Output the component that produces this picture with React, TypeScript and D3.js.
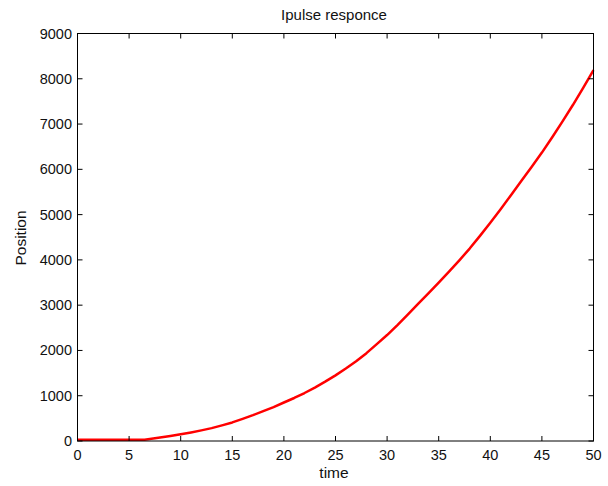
import React from "react";
import * as d3 from "d3";

const timeValues: number[] = [0, 1, 2, 3, 4, 5, 6, 6.5, 7, 8, 9, 10, 11, 12, 13, 14, 15, 16, 17, 18, 19, 20, 21, 22, 23, 24, 25, 26, 27, 28, 29, 30, 31, 32, 33, 34, 35, 36, 37, 38, 39, 40, 41, 42, 43, 44, 45, 46, 47, 48, 49, 50];
const positionValues: number[] = [30, 30, 30, 30, 30, 30, 30, 30, 45, 75, 110, 150, 190, 235, 285, 345, 410, 490, 570, 660, 750, 850, 950, 1060, 1180, 1310, 1450, 1600, 1760, 1940, 2140, 2340, 2560, 2790, 3030, 3260, 3500, 3740, 3990, 4250, 4530, 4820, 5120, 5430, 5740, 6050, 6370, 6710, 7060, 7420, 7800, 8190];
const xTicks: number[] = [0, 5, 10, 15, 20, 25, 30, 35, 40, 45, 50];
const yTicks: number[] = [0, 1000, 2000, 3000, 4000, 5000, 6000, 7000, 8000, 9000];
const titleText = "Ipulse responce";
const xLabel = "time";
const yLabel = "Position";

export default function App() {
  const W = 608, H = 486;
  const left = 77.5, right = 593.5, top = 33.5, bottom = 441;
  const x = d3.scaleLinear().domain([0, 50]).range([left, right]);
  const y = d3.scaleLinear().domain([0, 9000]).range([bottom, top]);
  const pts: [number, number][] = timeValues.map((t, i) => [t, positionValues[i]]);
  const line = d3.line<[number, number]>().x(d => x(d[0])).y(d => y(d[1]));
  const font = "'Liberation Sans', Arial, sans-serif";
  const tl = 5;
  return (
    <svg width={W} height={H} style={{ position: "absolute", left: 0, top: 0, background: "#fff" }} fontFamily={font}>
      <rect x={0} y={0} width={W} height={H} fill="#fff" />
      <path d={line(pts) || ""} fill="none" stroke="#ff0000" strokeWidth={2.5} strokeLinejoin="round" />
      <rect x={left} y={top} width={right - left} height={bottom - top} fill="none" stroke="#000" strokeWidth={1} />
      {xTicks.map(t => (
        <g key={"x" + t}>
          <line x1={x(t)} x2={x(t)} y1={bottom} y2={bottom - tl} stroke="#000" />
          <line x1={x(t)} x2={x(t)} y1={top} y2={top + tl} stroke="#000" />
          <text x={x(t)} y={460} fontSize={14.5} textAnchor="middle" fill="#111">{t}</text>
        </g>
      ))}
      {yTicks.map(v => (
        <g key={"y" + v}>
          <line x1={left} x2={left + tl} y1={y(v)} y2={y(v)} stroke="#000" />
          <line x1={right} x2={right - tl} y1={y(v)} y2={y(v)} stroke="#000" />
          <text x={72} y={y(v) + 5} fontSize={14.5} textAnchor="end" fill="#111">{v}</text>
        </g>
      ))}
      <text x={334} y={20} fontSize={15} textAnchor="middle" fill="#111">{titleText}</text>
      <text x={334} y={478} fontSize={15.5} textAnchor="middle" fill="#111">{xLabel}</text>
      <text transform={`translate(26,238) rotate(-90)`} fontSize={15.5} textAnchor="middle" fill="#111">{yLabel}</text>
    </svg>
  );
}
